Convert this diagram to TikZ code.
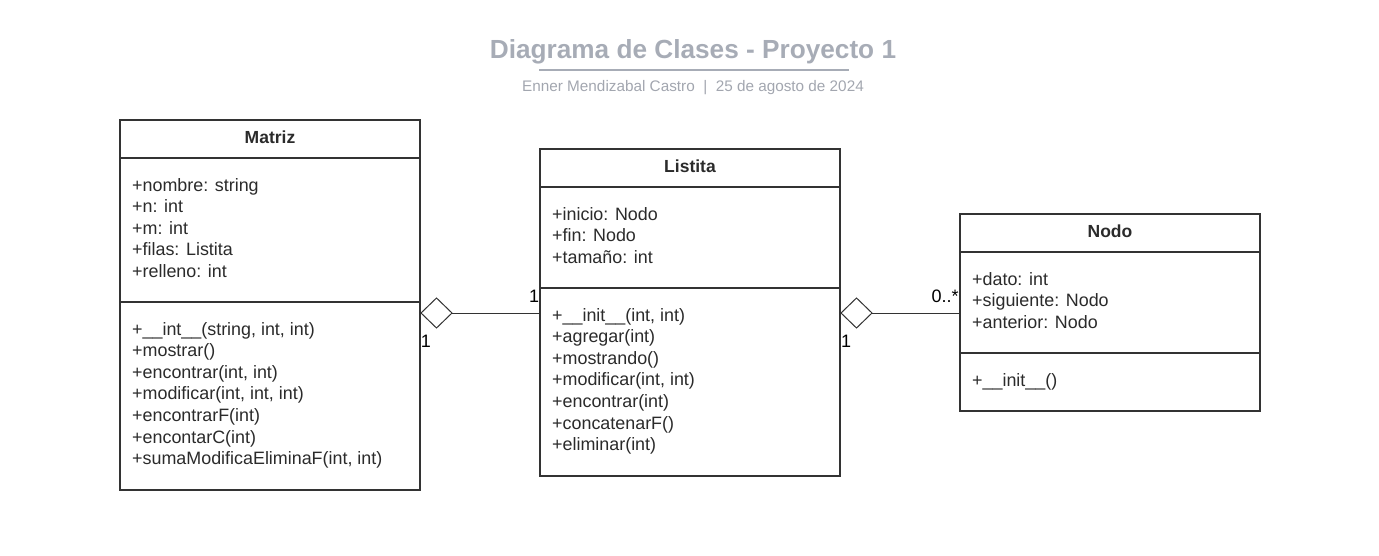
\documentclass[tikz,border=0pt]{standalone}
\usepackage{fontspec}
\setmainfont{Liberation Sans}
\usetikzlibrary{shapes.geometric}
\definecolor{ink}{HTML}{2B2B2B}
\definecolor{edge}{HTML}{333333}
\definecolor{ttl}{HTML}{A7ACB6}
\definecolor{sub}{HTML}{A2A6AF}
\begin{document}
\begin{tikzpicture}[x=1pt,y=-1pt,
  box/.style={draw=edge,line width=1.8pt,fill=white,outer sep=0pt,inner sep=0pt,anchor=north west},
  sep/.style={draw=edge,line width=1.8pt},
  attr/.style={inner sep=0pt,anchor=base west,text=ink,font=\fontsize{17.9}{21}\selectfont},
  head/.style={inner sep=0pt,anchor=base,text=ink,font=\fontsize{17.5}{21}\selectfont\bfseries},
  mult/.style={inner sep=0pt,anchor=base,text=black,font=\fontsize{18}{21}\selectfont},
  agg/.style={diamond,draw=edge,line width=1pt,fill=white,minimum width=31pt,minimum height=30pt,inner sep=0pt,outer sep=0pt},
  conn/.style={draw=edge,line width=1pt}]
\useasboundingbox (0,0) rectangle (1379,555);
% title
\node[inner sep=0pt,anchor=base,text=ttl,font=\fontsize{26.2}{30}\selectfont\bfseries] (title) at (693,58) {Diagrama de Clases - Proyecto 1};
\draw[draw=ttl,line width=1.8pt] (539,70) -- (849,70);
\node[inner sep=0pt,anchor=base,text=sub,font=\fontsize{15.3}{18}\selectfont] (subt) at (693,91) {Enner Mendizabal Castro \ | \ 25 de agosto de 2024};
% Matriz
\node[box,minimum width=300pt,minimum height=370pt] (matriz) at (120,120) {};
\draw[sep] (120,158) -- (420,158);
\draw[sep] (120,302) -- (420,302);
\node[head] (mh) at (270,143) {Matriz};
\foreach \t [count=\i] in {+nombre: string,+n: int,+m: int,+filas: Listita,+relleno: int}
  \node[attr] (ma\i) at (132,{191+21.6*(\i-1)}) {\t};
\foreach \t [count=\i] in {{+\_\_int\_\_(string, int, int)},+mostrar(),{+encontrar(int, int)},{+modificar(int, int, int)},+encontrarF(int),+encontarC(int),{+sumaModificaEliminaF(int, int)}}
  \node[attr] (mm\i) at (132,{335+21.6*(\i-1)}) {\t};
% Listita
\node[box,minimum width=300pt,minimum height=327pt] (listita) at (540,149) {};
\draw[sep] (540,187) -- (840,187);
\draw[sep] (540,288) -- (840,288);
\node[head] (lh) at (690,172) {Listita};
\foreach \t [count=\i] in {+inicio: Nodo,+fin: Nodo,+tamaño: int}
  \node[attr] (la\i) at (552,{220+21.6*(\i-1)}) {\t};
\foreach \t [count=\i] in {{+\_\_init\_\_(int, int)},+agregar(int),+mostrando(),{+modificar(int, int)},+encontrar(int),+concatenarF(),+eliminar(int)}
  \node[attr] (lm\i) at (552,{321+21.6*(\i-1)}) {\t};
% Nodo
\node[box,minimum width=300pt,minimum height=197pt] (nodo) at (960,214) {};
\draw[sep] (960,252) -- (1260,252);
\draw[sep] (960,353) -- (1260,353);
\node[head] (nh) at (1110,237) {Nodo};
\foreach \t [count=\i] in {+dato: int,+siguiente: Nodo,+anterior: Nodo}
  \node[attr] (na\i) at (972,{285+21.6*(\i-1)}) {\t};
\node[attr] (nm1) at (972,386) {+\_\_init\_\_()};
% aggregations
\node[agg,anchor=west] (d1) at (421,313) {};
\path[conn] (d1.east) -- (d1.east -| listita.west);
\node[mult] (m1a) at (534,302) {1};
\node[mult] (m1b) at (426,347) {1};
\node[agg,anchor=west] (d2) at (841,313) {};
\path[conn] (d2.east) -- (d2.east -| nodo.west);
\node[mult] (m2a) at (945,302) {0..*};
\node[mult] (m2b) at (846,347) {1};
\end{tikzpicture}
\end{document}
